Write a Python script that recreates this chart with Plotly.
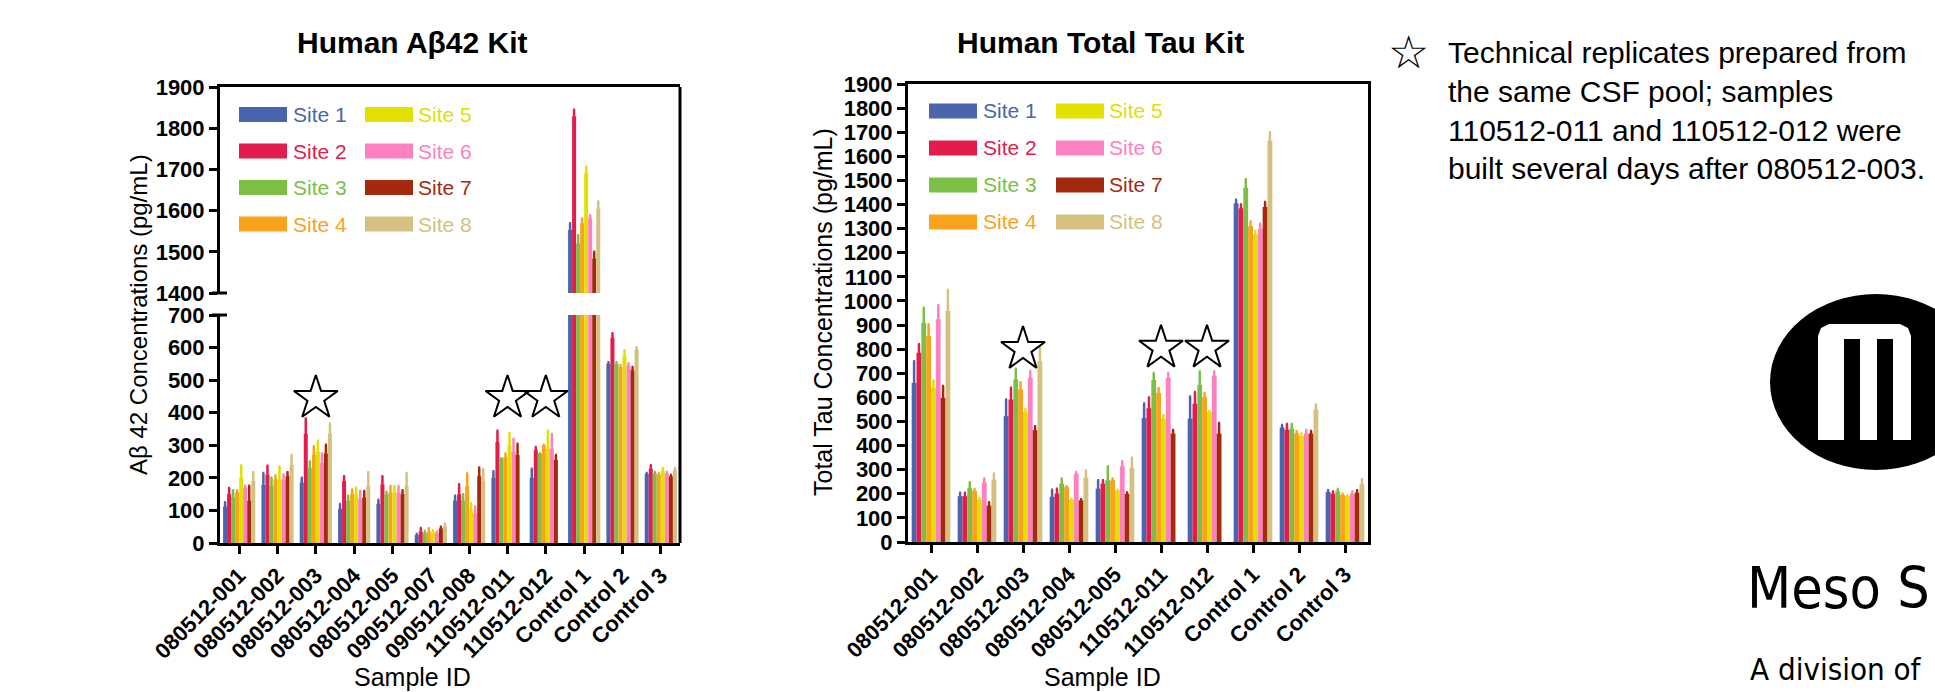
import plotly.graph_objects as go

W, H = 1935, 692

sites = ["Site 1", "Site 2", "Site 3", "Site 4", "Site 5", "Site 6", "Site 7", "Site 8"]
colors = ["#4a64ae", "#e31c4b", "#7bbf45", "#f9a21c", "#e2e000", "#ff80c0", "#a52a0d", "#d4c17f"]

ab_samples = ["080512-001", "080512-002", "080512-003", "080512-004", "080512-005", "090512-007",
              "090512-008", "110512-011", "110512-012", "Control 1", "Control 2", "Control 3"]
# mean values per site (rows = sites, cols = samples)
ab_mean = [
    [112, 178, 185, 105, 120, 25, 130, 200, 200, 1553, 550, 212],
    [150, 210, 335, 190, 180, 35, 150, 310, 285, 1829, 630, 228],
    [140, 175, 230, 130, 150, 30, 130, 260, 275, 1520, 550, 214],
    [155, 195, 270, 150, 155, 35, 175, 265, 300, 1569, 540, 210],
    [200, 195, 280, 150, 155, 35, 100, 300, 290, 1690, 575, 222],
    [170, 195, 245, 135, 155, 30, 90, 280, 290, 1581, 545, 214],
    [130, 205, 275, 140, 150, 45, 205, 270, 255, 1484, 530, 205],
    [190, 240, 335, 175, 175, 50, 190, None, None, 1605, 595, 225],
]
ab_top = [
    [125, 215, 200, 120, 133, 28, 145, 220, 228, 1569, 555, 215],
    [169, 237, 382, 205, 205, 46, 180, 345, 295, 1845, 644, 239],
    [162, 200, 250, 145, 157, 37, 150, 260, 275, 1540, 555, 218],
    [162, 207, 297, 164, 175, 45, 213, 275, 302, 1581, 546, 215],
    [238, 235, 314, 170, 175, 40, 122, 338, 345, 1707, 592, 230],
    [176, 210, 275, 160, 175, 35, 112, 320, 335, 1589, 552, 218],
    [176, 217, 302, 160, 162, 50, 232, 305, 270, 1500, 540, 209],
    [217, 271, 367, 217, 215, 60, 227, None, None, 1622, 601, 230],
]

tau_samples = ["080512-001", "080512-002", "080512-003", "080512-004", "080512-005",
               "110512-011", "110512-012", "Control 1", "Control 2", "Control 3"]
tau_mean = [
    [660, 190, 522, 187, 221, 514, 512, 1405, 475, 208],
    [785, 190, 591, 201, 242, 555, 574, 1385, 465, 200],
    [910, 224, 674, 242, 256, 672, 652, 1470, 470, 210],
    [854, 212, 633, 228, 256, 618, 600, 1310, 450, 195],
    [640, 176, 540, 176, 214, 512, 539, 1275, 440, 190],
    [924, 248, 681, 283, 314, 680, 690, 1300, 450, 200],
    [598, 151, 464, 173, 200, 450, 450, 1390, 450, 205],
    [958, 259, 750, 267, 308, None, None, 1665, 550, 240],
]
tau_top = [
    [750, 204, 591, 217, 256, 575, 604, 1420, 485, 215],
    [820, 204, 640, 221, 256, 599, 622, 1400, 490, 210],
    [972, 248, 719, 263, 314, 701, 707, 1505, 490, 220],
    [903, 220, 663, 231, 263, 639, 618, 1330, 460, 200],
    [670, 183, 552, 178, 217, 527, 545, 1290, 450, 195],
    [982, 263, 709, 290, 335, 701, 707, 1320, 465, 210],
    [647, 165, 480, 177, 205, 465, 494, 1410, 460, 215],
    [1045, 284, 806, 297, 350, None, None, 1700, 570, 260],
]

star_ab_x = ["080512-003", "110512-011", "110512-012"]
star_ab_y = [445, 445, 445]
star_tau_x = ["080512-003", "110512-011", "110512-012"]
star_tau_y = [800, 805, 805]

note_lines = ["Technical replicates prepared from",
              "the same CSF pool; samples",
              "110512-011 and 110512-012 were",
              "built several days after 080512-003."]

FONT = "Liberation Sans, Arial, sans-serif"


def px(x):
    return x / W


def py(y):
    return 1 - y / H


def err(mean, top):
    return [None if (m is None or t is None) else t - m for m, t in zip(mean, top)]


fig = go.Figure()

for i, s in enumerate(sites):
    e = err(ab_mean[i], ab_top[i])
    for xa, ya in (("x", "y"), ("x2", "y2")):
        fig.add_trace(go.Bar(
            x=ab_samples, y=ab_mean[i], name=s, marker_color=colors[i], marker_line_width=0,
            error_y=dict(type="data", array=e, arrayminus=[0] * len(e), symmetric=False,
                         color=colors[i], thickness=2.5, width=1),
            xaxis=xa, yaxis=ya, showlegend=False))
    et = err(tau_mean[i], tau_top[i])
    fig.add_trace(go.Bar(
        x=tau_samples, y=tau_mean[i], name=s, marker_color=colors[i], marker_line_width=0,
        error_y=dict(type="data", array=et, arrayminus=[0] * len(et), symmetric=False,
                     color=colors[i], thickness=2.5, width=1),
        xaxis="x3", yaxis="y3", showlegend=False))

star_marker = dict(symbol="star-open", size=33, color="black", line=dict(width=2, color="black"))
fig.add_trace(go.Scatter(x=star_ab_x, y=star_ab_y, mode="markers", marker=star_marker,
                         xaxis="x", yaxis="y", showlegend=False, cliponaxis=False))
fig.add_trace(go.Scatter(x=star_tau_x, y=star_tau_y, mode="markers", marker=star_marker,
                         xaxis="x3", yaxis="y3", showlegend=False, cliponaxis=False))

axis_common = dict(showline=True, linecolor="black", linewidth=3, ticks="outside",
                   ticklen=8, tickwidth=3, tickcolor="black", showgrid=False, zeroline=False,
                   automargin=False,
                   tickfont=dict(family=FONT, size=22, color="black", weight="bold"))

fig.update_layout(
    template="none",
    width=W, height=H, margin=dict(l=0, r=0, t=0, b=0, pad=0, autoexpand=False),
    paper_bgcolor="white", plot_bgcolor="white",
    barmode="group", bargap=0.16, bargroupgap=0,
    font=dict(family=FONT, color="black"),
    xaxis=dict(domain=[px(220), px(680)], anchor="y", type="category",
               categoryorder="array", categoryarray=ab_samples, range=[-0.5, 11.5],
               tickangle=-45, **axis_common),
    xaxis2=dict(domain=[px(220), px(680)], anchor="y2", matches="x", side="top",
                showline=True, linecolor="black", linewidth=3, showticklabels=False,
                ticks="", showgrid=False, zeroline=False, automargin=False),
    yaxis=dict(domain=[py(543), py(315)], anchor="x", range=[0, 700], dtick=100, **axis_common),
    yaxis2=dict(domain=[py(293), py(87)], anchor="x2", range=[1400, 1900], dtick=100, **axis_common),
    xaxis3=dict(domain=[px(908), px(1368)], anchor="y3", type="category",
                categoryorder="array", categoryarray=tau_samples, range=[-0.5, 9.5],
                tickangle=-45, mirror=True, **axis_common),
    yaxis3=dict(domain=[py(542), py(84)], anchor="x3", range=[0, 1900], dtick=100,
                mirror=True, **axis_common),
)

shapes = []
# right border of the broken-axis chart
shapes.append(dict(type="line", xref="paper", yref="paper", x0=px(680), x1=px(680),
                   y0=py(543), y1=py(87), line=dict(color="black", width=3)))
# axis-break inner tick marks
for yy in (293, 315):
    shapes.append(dict(type="line", xref="paper", yref="paper", x0=px(212), x1=px(227),
                       y0=py(yy), y1=py(yy), line=dict(color="black", width=3)))

annotations = []


def legend(col1_sw, col1_tx, col2_sw, col2_tx, rows):
    for i, s in enumerate(sites):
        col = i // 4
        r = i % 4
        sw = col1_sw if col == 0 else col2_sw
        tx = col1_tx if col == 0 else col2_tx
        yc = rows[r]
        shapes.append(dict(type="rect", xref="paper", yref="paper", x0=px(sw), x1=px(sw + 48),
                           y0=py(yc + 7.5), y1=py(yc - 7.5), fillcolor=colors[i],
                           line=dict(width=0)))
        annotations.append(dict(text=s, x=px(tx), y=py(yc), xanchor="left", yanchor="middle",
                                font=dict(family=FONT, size=21, color=colors[i])))


legend(239, 291, 365, 416, [114.5, 151, 187.5, 224])
legend(929, 981, 1056, 1107, [111, 148, 185, 222])

annotations += [
    dict(text="<b>Human Aβ42 Kit</b>", x=px(412), y=py(43), font=dict(size=30)),
    dict(text="<b>Human Total Tau Kit</b>", x=px(1100), y=py(43), font=dict(size=30)),
    dict(text="Aβ 42 Concentrations (pg/mL)", x=px(138), y=py(315), textangle=-90,
         font=dict(size=24)),
    dict(text="Total Tau Concentrations (pg/mL)", x=px(823), y=py(312), textangle=-90,
         font=dict(size=25)),
    dict(text="Sample ID", x=px(412), y=py(677), font=dict(size=25)),
    dict(text="Sample ID", x=px(1102), y=py(677), font=dict(size=25)),
    dict(text="☆", x=px(1408), y=py(52), font=dict(size=46, family="DejaVu Sans")),
]
for k, line in enumerate(note_lines):
    annotations.append(dict(text=line, x=px(1446), y=py(52 + 39 * k), xanchor="left",
                            font=dict(size=30)))

# logo
shapes.append(dict(type="circle", xref="paper", yref="paper", x0=px(1770), x1=px(1982),
                   y0=py(470), y1=py(294), fillcolor="black", line=dict(width=0)))


def ppath(pts):
    return "M " + " L ".join(f"{px(a):.5f},{py(b):.5f}" for a, b in pts) + " Z"


shapes.append(dict(type="path", xref="paper", yref="paper",
                   path=ppath([(1818, 440), (1818, 336), (1821, 328), (1829, 324), (1900, 324),
                               (1908, 328), (1911, 336), (1911, 440)]),
                   fillcolor="white", line=dict(width=0)))
for a, b in ((1844, 1860), (1877, 1893)):
    shapes.append(dict(type="rect", xref="paper", yref="paper", x0=px(a), x1=px(b),
                       y0=py(441), y1=py(339), fillcolor="black", line=dict(width=0)))

LOGO_FONT = "DejaVu Sans Condensed, Roboto, Liberation Sans, sans-serif"
annotations += [
    dict(text="Meso S", x=px(1745), y=py(588), xanchor="left",
         font=dict(size=57, family=LOGO_FONT)),
    dict(text="A division of", x=px(1748), y=py(669), xanchor="left",
         font=dict(size=31, family=LOGO_FONT)),
]

for a in annotations:
    a.setdefault("xref", "paper")
    a.setdefault("yref", "paper")
    a.setdefault("showarrow", False)
    a.setdefault("xanchor", "center")
    a.setdefault("yanchor", "middle")
    f = a.setdefault("font", {})
    f.setdefault("family", FONT)
    f.setdefault("color", "black")

fig.update_layout(shapes=shapes, annotations=annotations)

fig.write_html("out.html", config={"displayModeBar": False},
               post_script="document.body.style.margin='0px';")
